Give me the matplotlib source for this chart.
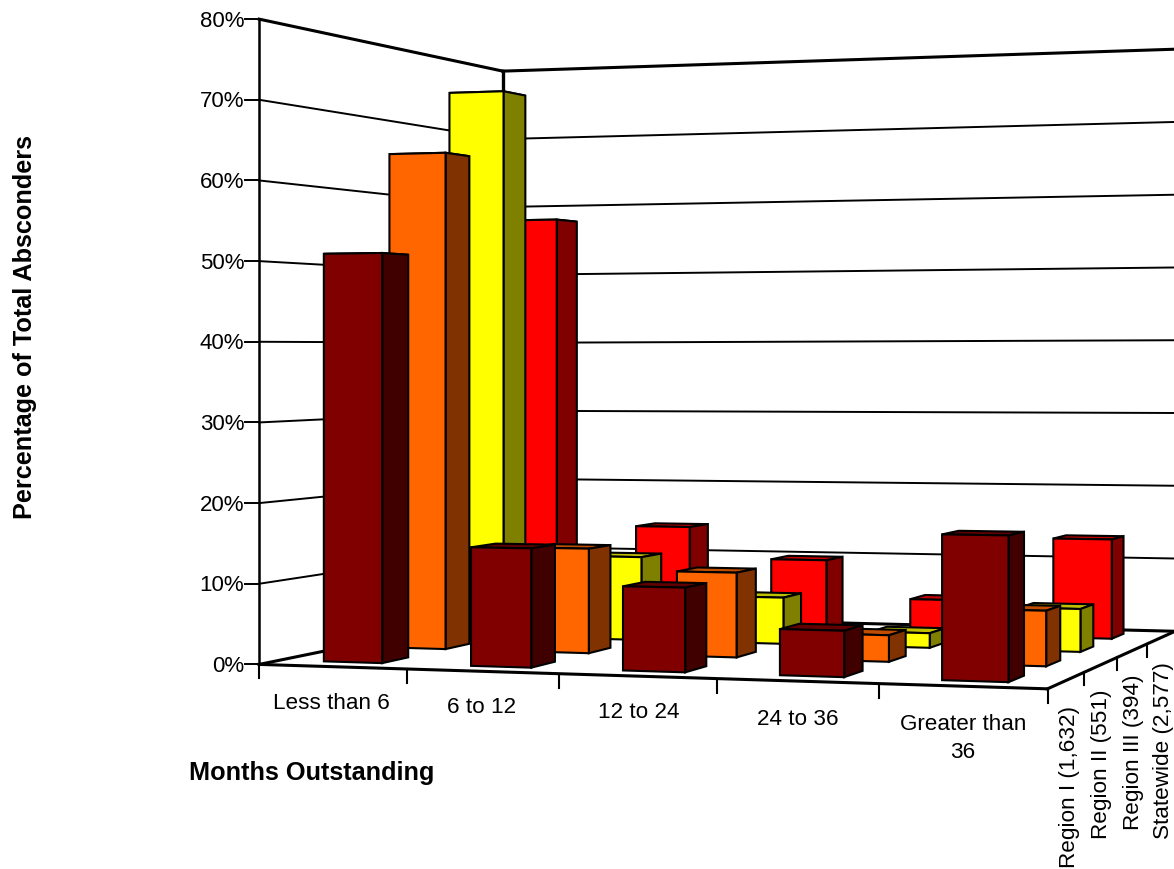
import numpy as np
import matplotlib
matplotlib.use('Agg')
import matplotlib.pyplot as plt
from matplotlib.patches import Polygon

plt.rcParams['font.family'] = ['Liberation Sans', 'DejaVu Sans']

W, H = 1174, 870

categories = ['Less than 6', '6 to 12', '12 to 24', '24 to 36', 'Greater than\n36']
regions = ['Region I (1,632)', 'Region II (551)', 'Region III (394)', 'Statewide (2,577)']
y_ticks = [0, 10, 20, 30, 40, 50, 60, 70, 80]

# percent of absconders, one list per region, front row first
region_1 = [51.0, 14.6, 10.2, 5.5, 17.1]
region_2 = [64.6, 13.4, 10.7, 3.3, 6.8]
region_3 = [74.1, 11.1, 6.1, 1.9, 5.5]
statewide = [57.4, 14.1, 9.8, 4.7, 13.3]
series = [region_1, region_2, region_3, statewide]

# front, side, top colours per row
row_colors = [
    ('#800000', '#400000', '#600000'),
    ('#FF6600', '#803300', '#C04D00'),
    ('#FFFF00', '#808000', '#C0C000'),
    ('#FF0000', '#800000', '#C00000'),
]

# reference points of the box: (category pos, depth pos, percent, px, py)
anchors = [
    (0, 0, 0, 259, 665), (0, 0, 80, 259, 21), (0, 0, 40, 259, 343),
    (0, 4, 0, 503, 616), (0, 4, 80, 503, 72), (0, 4, 40, 503, 343),
    (5, 4, 0, 1175, 633), (5, 4, 80, 1175, 49), (5, 4, 40, 1175, 343),
    (5, 0, 0, 1048, 690),
    (1, 0, 0, 406, 670), (2, 0, 0, 559, 674.5),
    (3, 0, 0, 717, 679.5), (4, 0, 0, 880, 684.7),
    (5, 1, 0, 1084, 673), (5, 2, 0, 1117, 658), (5, 3, 0, 1147, 644),
]


# fit a perspective camera with vertical lines staying vertical
def fit_camera(points):
    rows, rhs = [], []
    for u, v, z, px, py in points:
        rows.append([u, v, 1, 0, 0, 0, 0, -px * u, -px * v])
        rhs.append(px)
        rows.append([0, 0, 0, u, v, 1, z, -py * u, -py * v])
        rhs.append(py)
    sol, *_ = np.linalg.lstsq(np.array(rows, float), np.array(rhs, float), rcond=None)
    return sol


cam = fit_camera(anchors)


def proj(u, v, z):
    a, b, c, d, e, f, k, g, h = cam
    w = g * u + h * v + 1
    return (a * u + b * v + c) / w, (d * u + e * v + f + k * z) / w


fig = plt.figure(figsize=(W / 100, H / 100), dpi=100)
ax = fig.add_axes([0, 0, 1, 1])
ax.set_xlim(0, W)
ax.set_ylim(H, 0)
ax.axis('off')


def line(p0, p1, lw=1.4, z=1):
    ax.plot([p0[0], p1[0]], [p0[1], p1[1]], color='black', lw=lw, zorder=z,
            solid_capstyle='projecting')


# walls and gridlines
for val in y_ticks:
    lw = 2.2 if val in (0, 80) else 1.4
    line(proj(0, 0, val), proj(0, 4, val), lw)
    line(proj(0, 4, val), proj(5, 4, val), lw)
    tick = proj(0, 0, val)
    line((tick[0] - 14, tick[1]), tick, 1.4)
    ax.text(tick[0] - 15, tick[1] + 1, '%d%%' % val, ha='right', va='center', fontsize=16)

line(proj(0, 0, 0), proj(0, 0, 80), 1.8)
line(proj(0, 4, 0), proj(0, 4, 80), 2.4)
line(proj(0, 0, 0), proj(5, 0, 0), 2.2, 5)
line(proj(5, 0, 0), proj(5, 4, 0), 2.2, 5)

# floor ticks
for i in range(len(categories) + 1):
    p = proj(i, 0, 0)
    line(p, (p[0], p[1] + 14), 1.5)
for j in range(1, len(regions) + 1):
    p = proj(5, j, 0)
    line(p, (p[0], p[1] + 13), 1.5)

# bars, back row first so nearer rows overlap them
order = 10
for j in reversed(range(len(series))):
    front_c, side_c, top_c = row_colors[j]
    for i, val in enumerate(series[j]):
        u0, u1 = i + 0.3, i + 0.7
        v0, v1 = j + 0.3, j + 0.7
        faces = [
            ([(u0, v0, val), (u1, v0, val), (u1, v1, val), (u0, v1, val)], top_c),
            ([(u1, v0, 0), (u1, v1, 0), (u1, v1, val), (u1, v0, val)], side_c),
            ([(u0, v0, 0), (u1, v0, 0), (u1, v0, val), (u0, v0, val)], front_c),
        ]
        for corners, color in faces:
            pts = [proj(*c) for c in corners]
            ax.add_patch(Polygon(pts, closed=True, facecolor=color, edgecolor='black',
                                 lw=1.5, joinstyle='miter', zorder=order))
        order += 1

# category labels
label_pos = [(331, 704), (482, 708), (639, 713), (798, 720), (963, 738.5)]
for name, (x, y) in zip(categories, label_pos):
    ax.text(x, y, name, ha='center', va='center', fontsize=16.2, linespacing=1.4)

# depth labels hang below the side edge
depth_pos = [(1069, 706), (1102, 690), (1134, 675), (1163, 662)]
for name, (x, y) in zip(regions, depth_pos):
    ax.text(x, y, name, ha='center', va='top', rotation=90, fontsize=16.2)

ax.text(189, 773, 'Months Outstanding', ha='left', va='center', fontsize=18.2, fontweight='bold')
ax.text(25, 327, 'Percentage of Total Absconders', ha='center', va='center', rotation=90,
        fontsize=18.2, fontweight='bold')

fig.savefig('out.png', dpi=100, facecolor='white')
